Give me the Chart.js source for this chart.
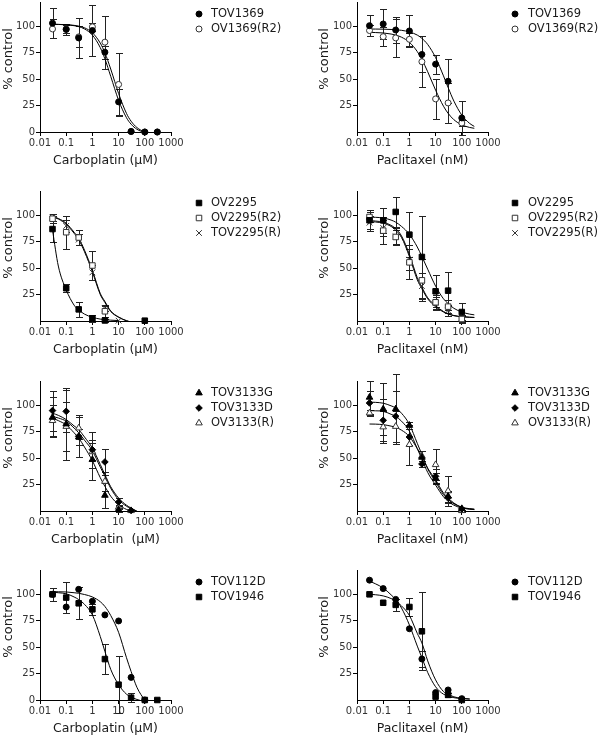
<!DOCTYPE html>
<html><head><meta charset="utf-8">
<script src="https://cdn.jsdelivr.net/npm/chart.js@4.4.1/dist/chart.umd.min.js"></script>
<style>
html,body{margin:0;padding:0;background:#fff;}
#wrap{position:relative;width:600px;height:737px;overflow:hidden;background:#fff;}
canvas{position:absolute;}
</style></head><body><div id="wrap"></div>
<script>
// ---------- shared axes ----------
const doses = [0.03, 0.1, 0.3, 1, 3, 10, 30, 100, 300];
const fitX = [0.03, 0.05, 0.1, 0.2, 0.3, 0.5, 1, 2, 3, 5, 10, 20, 30, 50, 100, 200, 300];
const xTicks = [0.01, 0.1, 1, 10, 100, 1000];
const xTickLabels = ['0.01', '0.1', '1', '10', '100', '1000'];
const yTicksWithZero = [0, 25, 50, 75, 100];
const yTicksNoZero = [25, 50, 75, 100];

// ---------- panel 1: carboplatin ----------
const p1_TOV1369 = [103, 97, 89, 96, 75.5, 28.5, 0.5, 0, 0];
const p1_TOV1369_err = [14, 5, 19, 24, 6, 12, 0, 0, 0];
const p1_OV1369R2 = [97.5, 97.5, 90, 99.5, 85, 45, 0.5, 0, 0];
const p1_OV1369R2_err = [9, 4, 10, 4, 25, 30, 0, 0, 0];
const f1_TOV1369 = [101.9, 101.8, 101.4, 100.6, 99.7, 97.5, 91.7, 79.8, 69.2, 52.7, 30.0, 13.5, 7.4, 2.6, -0.6, null, null];
const f1_OV1369R2 = [101.9, 101.8, 101.6, 100.9, 100.2, 98.6, 93.9, 84.1, 74.9, 59.6, 36.4, 17.6, 10.2, 4.2, 0.1, -1.7, null];

// ---------- panel 2: paclitaxel ----------
const p2_TOV1369 = [100.6, 102.2, 96.5, 95.6, 73.4, 64.2, 48, 13.3, null];
const p2_TOV1369_err = [10, 14, 12, 15, 17, 9, 21, 16, 0];
const p2_OV1369R2 = [96, 90.2, 89, 87.7, 66.5, 31.3, 27.5, 8.5, null];
const p2_OV1369R2_err = [5, 9, 18, 6, 24, 19, 19, 3, 0];
const f2_TOV1369 = [97.4, 97.4, 97.3, 97.0, 96.8, 96.2, 94.7, 91.7, 88.6, 82.8, 70.4, 53.1, 42.1, 29.2, 16.0, 8.1, 5.3];
const f2_OV1369R2 = [94.3, 94.1, 93.7, 92.7, 91.7, 89.7, 84.9, 76.1, 68.6, 57.0, 39.6, 24.4, 17.7, 11.6, 6.8, 4.3, 3.5];

// ---------- panel 3: carboplatin ----------
const p3_OV2295 = [87, 31, 11, 2.5, 0.5, null, null, 0.3, null];
const p3_OV2295_err = [12, 4, 7, 3, 1, 0, 0, 0, 0];
const p3_OV2295R2 = [96.8, 84, 79, 52.5, 9.2, null, null, null, null];
const p3_OV2295R2_err = [4, 15.5, 7.5, 14, 5, 0, 0, 0, 0];
const p3_TOV2295R = [98, 90, 77, 46, 12, 0.3, null, null, null];
const p3_TOV2295R_err = [3, 6, 5, 7, 3, 0, 0, 0, 0];
const f3_OV2295 = [86, 52, 29.5, 15, 10.5, 6.5, 3.5, 1.8, 1.3, 0.8, 0.4, null, null, null, null, null, null];
const f3_OV2295R2 = [99, 97, 92.5, 84, 78.5, 67, 48, 26, 18.5, 9.5, 3.8, 0.3, -1, null, null, null, null];
const f3_TOV2295R = [98.5, 96.5, 91.5, 83, 77, 65.5, 46.5, 25, 17.5, 9, 3.5, 0.2, -1, null, null, null, null];

// ---------- panel 4: paclitaxel ----------
const p4_OV2295 = [95.3, 95.3, 103.2, 81.7, 60.6, 28.1, 28.7, 8.5, null];
const p4_OV2295_err = [10, 12, 14, 21, 38.5, 15, 18, 9, 0];
const p4_OV2295R2 = [98.4, 85.5, 79.5, 55.5, 38.5, 17.7, 13.6, 1.9, null];
const p4_OV2295R2_err = [5, 13, 7, 16, 20, 7, 6, 4, 0];
const p4_TOV2295R = [93, 88, 80, 58, 33, 17, 10, 3, null];
const p4_TOV2295R_err = [6, 8, 8, 10, 12, 6, 5, 2, 0];
const f4_OV2295 = [98.3, 98.1, 97.5, 95.5, 93.5, 89.5, 82, 70, 61, 49, 33, 21, 16.5, 12, 8.5, 6.5, 5.8];
const f4_OV2295R2 = [94, 93.7, 92.5, 89.5, 86, 79, 61, 39, 30.5, 21, 13.5, 8.5, 6.6, 5, 4, 3.5, 3.3];
const f4_TOV2295R = [95, 94.6, 93.5, 90.5, 87.5, 80.5, 63, 41, 32, 22, 14.5, 9, 7, 5.2, 4.1, 3.6, 3.4];

// ---------- panel 5: carboplatin ----------
const p5_TOV3133G = [88.6, 82.3, 70, 48.6, 14.8, 1.3, null, null, null];
const p5_TOV3133G_err = [19, 34, 8, 19, 12, 2, 0, 0, 0];
const p5_TOV3133D = [95, 94.3, 70.7, 58, 46.4, 8.5, 0.5, null, null];
const p5_TOV3133D_err = [19, 20, 20, 17, 12.6, 4, 0, 0, 0];
const p5_OV3133R = [85.5, 80, 78.5, 56, 28, 3.5, 0.3, null, null];
const p5_OV3133R_err = [15, 23, 10, 8, 9, 2, 0, 0, 0];
const f5_TOV3133G = [88, 85.5, 81.5, 74, 69, 60.5, 47.5, 31.5, 23.3, 14, 6, 1.5, 0.2, -1, null, null, null];
const f5_TOV3133D = [89.5, 88, 85, 78.5, 74, 67, 57, 41.5, 33, 21.5, 10.7, 4.5, 2.2, -0.3, null, null, null];
const f5_OV3133R = [92.5, 90.5, 86.5, 80.5, 77, 70, 59.5, 44, 34.5, 23, 12.3, 5.5, 2.8, -0.2, null, null, null];

// ---------- panel 6: paclitaxel ----------
const p6_TOV3133G = [107.6, 96.5, 96.5, 81, 50.8, 31.2, 13.9, 2.2, null];
const p6_TOV3133G_err = [15.4, 24.5, 33.5, 3, 6, 5, 5, 1, 0];
const p6_TOV3133D = [102.2, 85.8, 89.6, 70, 44.5, 32.8, 12.9, 2, null];
const p6_TOV3133D_err = [11, 20, 24, 8, 3, 7, 5, 1, 0];
const p6_OV3133R = [92.7, 79.5, 80, 62.8, 52, 43.8, 19, 0.3, null];
const p6_OV3133R_err = [3, 15, 15, 19, 5, 14.5, 14, 1, 0];
const f6_TOV3133G = [103, 102.8, 102, 99.5, 97.5, 92.5, 82, 64, 53.5, 40, 27.5, 15.5, 11, 6.8, 3.5, 2.2, 1.8];
const f6_TOV3133D = [95, 94.8, 94.3, 91.5, 89.5, 85, 75.5, 59, 49, 36.5, 24.5, 13.5, 9.2, 5.5, 2.8, 1.8, 1.5];
const f6_OV3133R = [82.3, 82.2, 81.7, 80.3, 79.2, 76.5, 70.5, 59, 51.5, 40.5, 29.5, 17, 12.3, 7.5, 3.5, 1.8, 1.3];

// ---------- panel 7: carboplatin ----------
const p7_TOV112D = [100, 88, 104.7, 93.4, 80.5, 74.8, 21.4, 0, null];
const p7_TOV112D_err = [0, 0, 0, 0, 0, 0, 0, 0, 0];
const p7_TOV1946 = [100, 96.9, 91.5, 85.8, 38.7, 14.5, 2.2, 0, 0];
const p7_TOV1946_err = [6, 15, 15, 5, 14, 27, 4, 0, 0];
const f7_TOV112D = [102.5, 102.4, 102.2, 101.5, 101, 99.8, 97.5, 93, 88.5, 80, 64, 40, 27, 12, -0.5, null, null];
const f7_TOV1946 = [102, 101.5, 100.5, 97.5, 95, 90.5, 80.5, 60, 46, 29, 14.5, 5.5, 2.8, 0.5, -1.5, null, null];

// ---------- panel 8: paclitaxel ----------
const p8_TOV112D = [113.4, 105.4, 95.2, 67.4, 38.8, 7, 9.5, 1.3, null];
const p8_TOV112D_err = [0, 0, 0, 0, 8, 0, 0, 0, 0];
const p8_TOV1946 = [100, 92, 90, 88, 65, 3.2, 4.8, 0, null];
const p8_TOV1946_err = [0, 0, 6, 8.5, 37, 0, 2, 0, 0];
const f8_TOV112D = [112.5, 110, 106, 99.5, 95, 87, 71, 51, 40, 26, 12.5, 5.5, 3.8, 2.2, 1.3, 1.0, null];
const f8_TOV1946 = [100, 99.6, 98.5, 96, 93.7, 89, 80, 63, 54, 37, 19, 8, 5.5, 3, 1.6, 0.8, null];

// ---------- marker styles ----------
const M = {
  dot:    {style: 'circle',   r: 3,   open: false},
  ring:   {style: 'circle',   r: 3,   open: true},
  sq:     {style: 'rect',     r: 3.9, open: false},
  osq:    {style: 'rect',     r: 3.9, open: true},
  x:      {style: 'crossRot', r: 4,   open: true},
  tri:    {style: 'triangle', r: 3.8, open: false},
  otri:   {style: 'triangle', r: 3.8, open: true},
  dia:    {style: 'rectRot',  r: 3.3, open: false}
};

const CARBO = 'Carboplatin (µM)';
const PACLI = 'Paclitaxel (nM)';

const panels = [
  {row: 0, col: 0, xTitle: CARBO, yTicks: yTicksWithZero,
   series: [{label: 'TOV1369', v: p1_TOV1369, e: p1_TOV1369_err, m: M.dot},
            {label: 'OV1369(R2)', v: p1_OV1369R2, e: p1_OV1369R2_err, m: M.ring}],
   fits: [f1_TOV1369, f1_OV1369R2]},
  {row: 0, col: 1, xTitle: PACLI, yTicks: yTicksNoZero,
   series: [{label: 'TOV1369', v: p2_TOV1369, e: p2_TOV1369_err, m: M.dot},
            {label: 'OV1369(R2)', v: p2_OV1369R2, e: p2_OV1369R2_err, m: M.ring}],
   fits: [f2_TOV1369, f2_OV1369R2]},
  {row: 1, col: 0, xTitle: CARBO, yTicks: yTicksNoZero,
   series: [{label: 'OV2295', v: p3_OV2295, e: p3_OV2295_err, m: M.sq},
            {label: 'OV2295(R2)', v: p3_OV2295R2, e: p3_OV2295R2_err, m: M.osq},
            {label: 'TOV2295(R)', v: p3_TOV2295R, e: p3_TOV2295R_err, m: M.x}],
   fits: [f3_OV2295, f3_OV2295R2, f3_TOV2295R]},
  {row: 1, col: 1, xTitle: PACLI, yTicks: yTicksNoZero,
   series: [{label: 'OV2295', v: p4_OV2295, e: p4_OV2295_err, m: M.sq},
            {label: 'OV2295(R2)', v: p4_OV2295R2, e: p4_OV2295R2_err, m: M.osq},
            {label: 'TOV2295(R)', v: p4_TOV2295R, e: p4_TOV2295R_err, m: M.x}],
   fits: [f4_OV2295, f4_OV2295R2, f4_TOV2295R]},
  {row: 2, col: 0, xTitle: 'Carboplatin  (µM)', yTicks: yTicksNoZero,
   series: [{label: 'TOV3133G', v: p5_TOV3133G, e: p5_TOV3133G_err, m: M.tri},
            {label: 'TOV3133D', v: p5_TOV3133D, e: p5_TOV3133D_err, m: M.dia},
            {label: 'OV3133(R)', v: p5_OV3133R, e: p5_OV3133R_err, m: M.otri}],
   fits: [f5_TOV3133G, f5_TOV3133D, f5_OV3133R]},
  {row: 2, col: 1, xTitle: PACLI, yTicks: yTicksNoZero,
   series: [{label: 'TOV3133G', v: p6_TOV3133G, e: p6_TOV3133G_err, m: M.tri},
            {label: 'TOV3133D', v: p6_TOV3133D, e: p6_TOV3133D_err, m: M.dia},
            {label: 'OV3133(R)', v: p6_OV3133R, e: p6_OV3133R_err, m: M.otri}],
   fits: [f6_TOV3133G, f6_TOV3133D, f6_OV3133R]},
  {row: 3, col: 0, xTitle: CARBO, yTicks: yTicksWithZero,
   series: [{label: 'TOV112D', v: p7_TOV112D, e: p7_TOV112D_err, m: M.dot},
            {label: 'TOV1946', v: p7_TOV1946, e: p7_TOV1946_err, m: M.sq}],
   fits: [f7_TOV112D, f7_TOV1946]},
  {row: 3, col: 1, xTitle: PACLI, yTicks: yTicksNoZero,
   series: [{label: 'TOV112D', v: p8_TOV112D, e: p8_TOV112D_err, m: M.dot},
            {label: 'TOV1946', v: p8_TOV1946, e: p8_TOV1946_err, m: M.sq}],
   fits: [f8_TOV112D, f8_TOV1946]}
];

// ---------- layout constants ----------
const rowZero = [132, 321, 511, 700];   // page y of the x axis in each row
const CH = 175, TOPPAD = 8, ZLOCAL = 138;
Chart.defaults.font.family = "'DejaVu Sans', Verdana, sans-serif";

function drawMarker(ctx, m, x, y) {
  const r = m.r;
  ctx.save();
  ctx.lineWidth = 1;
  ctx.strokeStyle = m.open ? '#333' : '#000';
  ctx.fillStyle = m.open ? '#fff' : '#000';
  ctx.beginPath();
  if (m.style === 'circle') {
    ctx.arc(x, y, r, 0, Math.PI * 2);
  } else if (m.style === 'rect') {
    const s = Math.SQRT1_2 * r;
    ctx.rect(x - s, y - s, 2 * s, 2 * s);
  } else if (m.style === 'triangle') {
    let a = 0;
    ctx.moveTo(x + Math.sin(a) * r, y - Math.cos(a) * r);
    a += 2 * Math.PI / 3;
    ctx.lineTo(x + Math.sin(a) * r, y - Math.cos(a) * r);
    a += 2 * Math.PI / 3;
    ctx.lineTo(x + Math.sin(a) * r, y - Math.cos(a) * r);
    ctx.closePath();
  } else if (m.style === 'rectRot') {
    ctx.moveTo(x - r, y); ctx.lineTo(x, y - r); ctx.lineTo(x + r, y); ctx.lineTo(x, y + r);
    ctx.closePath();
  } else if (m.style === 'crossRot') {
    const o = Math.SQRT1_2 * r;
    ctx.moveTo(x - o, y - o); ctx.lineTo(x + o, y + o);
    ctx.moveTo(x + o, y - o); ctx.lineTo(x - o, y + o);
  }
  if (m.style !== 'crossRot') ctx.fill();
  ctx.stroke();
  ctx.restore();
}

const wrap = document.getElementById('wrap');

panels.forEach(p => {
  const cv = document.createElement('canvas');
  cv.width = 300; cv.height = CH;
  cv.style.left = (p.col * 300) + 'px';
  cv.style.top = (rowZero[p.row] - ZLOCAL) + 'px';
  cv.style.width = '300px'; cv.style.height = CH + 'px';
  wrap.appendChild(cv);

  const datasets = [];
  p.series.forEach(s => {
    datasets.push({
      type: 'scatter', label: s.label,
      data: doses.map((d, i) => s.v[i] == null ? null : {x: d, y: s.v[i]}).filter(Boolean),
      pointStyle: s.m.style, pointRadius: s.m.r, pointBorderWidth: 1,
      pointBackgroundColor: s.m.open ? '#fff' : '#000',
      pointBorderColor: s.m.open ? '#333' : '#000',
      showLine: false, clip: false
    });
  });
  p.fits.forEach(f => {
    datasets.push({
      type: 'line',
      data: fitX.map((x, i) => f[i] == null ? null : {x: x, y: f[i]}).filter(Boolean),
      borderColor: '#000', borderWidth: 1, pointRadius: 0, fill: false,
      cubicInterpolationMode: 'monotone'
    });
  });

  const gridOpts = {display: true, drawOnChartArea: false, drawTicks: true, tickLength: 4, color: '#000', lineWidth: 1};
  const borderOpts = {display: true, color: '#000', width: 1};

  const panelPlugin = {
    id: 'panelExtras',
    beforeDatasetsDraw(chart) {
      const ctx = chart.ctx, xs = chart.scales.x, ys = chart.scales.y;
      ctx.save();
      ctx.strokeStyle = '#222'; ctx.lineWidth = 1;
      p.series.forEach(s => {
        doses.forEach((d, i) => {
          const v = s.v[i], e = s.e[i];
          if (v == null || !e) return;
          const x = Math.round(xs.getPixelForValue(d)) + 0.5;
          const y1 = Math.round(ys.getPixelForValue(v + e)) + 0.5;
          const y2 = Math.round(ys.getPixelForValue(v - e)) + 0.5;
          ctx.beginPath();
          ctx.moveTo(x, y1); ctx.lineTo(x, y2);
          ctx.moveTo(x - 3.5, y1); ctx.lineTo(x + 3.5, y1);
          ctx.moveTo(x - 3.5, y2); ctx.lineTo(x + 3.5, y2);
          ctx.stroke();
        });
      });
      ctx.restore();
    },
    afterDraw(chart) {
      const ctx = chart.ctx;
      // y axis title
      ctx.save();
      ctx.fillStyle = '#1a1a1a';
      ctx.font = "13px 'DejaVu Sans', Verdana, sans-serif";
      ctx.textAlign = 'center'; ctx.textBaseline = 'middle';
      ctx.translate(p.col ? 25 : 8.5, ZLOCAL - 73);
      ctx.rotate(-Math.PI / 2);
      ctx.fillText('% control', 0, 0);
      ctx.restore();
      // legend
      const mx = p.col ? 215 : 199, tx = p.col ? 228 : 211;
      p.series.forEach((s, i) => {
        const y = ZLOCAL - 118 + i * 15;
        drawMarker(ctx, s.m, mx, y);
        ctx.save();
        ctx.fillStyle = '#1a1a1a';
        ctx.font = "11.5px 'DejaVu Sans', Verdana, sans-serif";
        ctx.textAlign = 'left'; ctx.textBaseline = 'middle';
        ctx.fillText(s.label, tx, y);
        ctx.restore();
      });
    }
  };

  new Chart(cv, {
    type: 'scatter',
    data: {datasets},
    plugins: [panelPlugin],
    options: {
      responsive: false, animation: false, devicePixelRatio: 1, events: [],
      layout: {padding: {left: p.col ? 16 : 0, right: p.col ? 112 : 129, top: TOPPAD, bottom: 0}},
      plugins: {legend: {display: false}, tooltip: {enabled: false}},
      scales: {
        x: {
          type: 'logarithmic', position: 'bottom', min: 0.01, max: 1000,
          afterBuildTicks: ax => { ax.ticks = xTicks.map(v => ({value: v})); },
          afterFit: ax => { ax.height = 37; },
          ticks: {autoSkip: false, maxRotation: 0, minRotation: 0, padding: 1, color: '#333',
                  font: {size: 10}, callback: (v, i) => xTickLabels[i]},
          grid: gridOpts, border: borderOpts,
          title: {display: true, text: p.xTitle, color: '#1a1a1a', font: {size: 12.5}, padding: {top: 0, bottom: 1}}
        },
        y: {
          type: 'linear', min: 0, max: 123,
          afterBuildTicks: ax => { ax.ticks = p.yTicks.map(v => ({value: v})); },
          afterFit: ax => { ax.width = p.col ? 41 : 40; },
          ticks: {padding: 1, color: '#333', font: {size: 10}, callback: v => String(v)},
          grid: gridOpts, border: borderOpts,
          title: {display: false}
        }
      }
    }
  });
});
</script>
</body></html>
